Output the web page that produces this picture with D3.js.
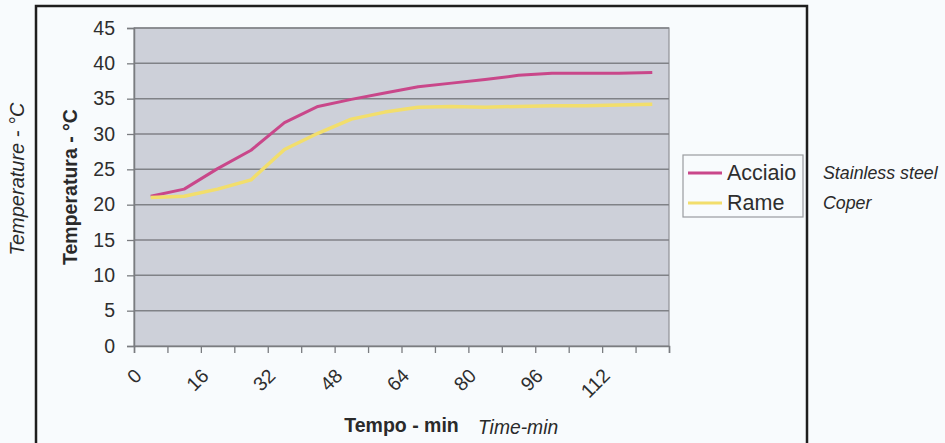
<!DOCTYPE html>
<html>
<head>
<meta charset="utf-8">
<script src="https://cdn.jsdelivr.net/npm/d3@7/dist/d3.min.js"></script>
<style>
  html, body { margin: 0; padding: 0; background: #f8fbfd; }
  svg { display: block; }
  text { font-family: "Liberation Sans", Arial, sans-serif; }
</style>
</head>
<body>
<svg id="chart" width="945" height="443"></svg>
<script>
// Sampling times (min), one reading every 8 minutes
const times = [0, 8, 16, 24, 32, 40, 48, 56, 64, 72, 80, 88, 96, 104, 112, 120];
// Temperature readings (°C)
const acciaio = [21.2, 22.2, 25.1, 27.7, 31.6, 33.9, 34.9, 35.8, 36.7, 37.2, 37.7, 38.3, 38.6, 38.6, 38.6, 38.7];
const rame    = [21.0, 21.2, 22.2, 23.5, 27.8, 30.1, 32.1, 33.1, 33.8, 33.9, 33.8, 33.9, 34.0, 34.0, 34.1, 34.2];
const seriesNames = ["Acciaio", "Rame"];
const seriesNotes = ["Stainless steel", "Coper"];
const seriesColors = ["#c9478a", "#f2de6c"];
// Axis labels
const xTickLabels = [0, 16, 32, 48, 64, 80, 96, 112];
const yTicks = [0, 5, 10, 15, 20, 25, 30, 35, 40, 45];

const svg = d3.select("#chart");

// Outer frame
svg.append("path")
  .attr("d", "M36,460 V6 H807 V460")
  .attr("fill", "none").attr("stroke", "#1e1e1e").attr("stroke-width", 2.5);

const plot = { left: 134, right: 669, top: 28, bottom: 346 };

const x = d3.scaleBand().domain(times).range([plot.left, plot.right]).paddingInner(0).paddingOuter(0);
const xEdge = d3.scaleLinear().domain([0, times.length]).range([plot.left, plot.right]);
const y = d3.scaleLinear().domain([0, 45]).range([plot.bottom, plot.top]);

// Plot area
svg.append("rect")
  .attr("x", plot.left).attr("y", plot.top)
  .attr("width", plot.right - plot.left).attr("height", plot.bottom - plot.top)
  .attr("fill", "#cdd0d9").attr("stroke", "#8f9196").attr("stroke-width", 1.2);

// Horizontal gridlines
svg.append("g")
  .selectAll("line")
  .data(yTicks.filter(d => d > 0))
  .join("line")
  .attr("x1", plot.left).attr("x2", plot.right)
  .attr("y1", d => y(d)).attr("y2", d => y(d))
  .attr("stroke", "#808287").attr("stroke-width", 1.5);

// Y axis
const yAxis = svg.append("g")
  .attr("transform", `translate(${plot.left},0)`)
  .call(d3.axisLeft(y).tickValues(yTicks).tickSize(7).tickPadding(12));
yAxis.select(".domain").attr("stroke", "#7a7c80").attr("stroke-width", 1.5);
yAxis.selectAll(".tick line").attr("stroke", "#7a7c80").attr("stroke-width", 1.3);
yAxis.selectAll(".tick text")
  .attr("font-size", 19.5).attr("fill", "#2e2e2e")
  .style("font-family", "'Liberation Sans', Arial, sans-serif");

// X axis (ticks on category boundaries)
const xAxis = svg.append("g")
  .attr("transform", `translate(0,${plot.bottom})`)
  .call(d3.axisBottom(xEdge).tickValues(d3.range(times.length + 1)).tickSize(7).tickFormat(""));
xAxis.select(".domain").attr("stroke", "#7a7c80").attr("stroke-width", 1.5);
xAxis.selectAll(".tick line").attr("stroke", "#7a7c80").attr("stroke-width", 1.3);

// Rotated category labels
svg.append("g")
  .selectAll("text")
  .data(xTickLabels)
  .join("text")
  .attr("transform", d => `translate(${x(d) + 4},372) rotate(-45)`)
  .attr("text-anchor", "end")
  .attr("dominant-baseline", "central")
  .attr("font-size", 19.5)
  .attr("fill", "#2e2e2e")
  .text(d => d);

// Series lines
const line = d3.line()
  .x((d, i) => x(times[i]) + x.bandwidth() / 2)
  .y(d => y(d));

[acciaio, rame].forEach((vals, k) => {
  svg.append("path")
    .datum(vals)
    .attr("fill", "none")
    .attr("stroke", seriesColors[k])
    .attr("stroke-width", k === 0 ? 3 : 3.5)
    .attr("stroke-linejoin", "round")
    .attr("d", line);
});

// Axis titles
svg.append("text")
  .attr("transform", `translate(77,187) rotate(-90)`)
  .attr("text-anchor", "middle")
  .attr("font-size", 19.5).attr("font-weight", "bold").attr("fill", "#2a2a2a")
  .text("Temperatura - °C");

svg.append("text")
  .attr("transform", `translate(24,179) rotate(-90)`)
  .attr("text-anchor", "middle")
  .attr("font-size", 20).attr("font-style", "italic").attr("fill", "#2a2a2a")
  .text("Temperature - °C");

svg.append("text")
  .attr("x", (plot.left + plot.right) / 2).attr("y", 432)
  .attr("text-anchor", "middle")
  .attr("font-size", 19.5).attr("font-weight", "bold").attr("fill", "#2a2a2a")
  .text("Tempo - min");

svg.append("text")
  .attr("x", 478).attr("y", 434)
  .attr("font-size", 19.3).attr("font-style", "italic").attr("fill", "#2a2a2a")
  .text("Time-min");

// Legend
const legend = svg.append("g");
legend.append("rect")
  .attr("x", 683).attr("y", 155).attr("width", 120).attr("height", 62)
  .attr("fill", "#f8fbfd").attr("stroke", "#9a9ca0").attr("stroke-width", 1.2);

const legendY = [173, 203];
seriesNames.forEach((name, k) => {
  legend.append("line")
    .attr("x1", 688).attr("x2", 722)
    .attr("y1", legendY[k]).attr("y2", legendY[k])
    .attr("stroke", seriesColors[k]).attr("stroke-width", 3);
  legend.append("text")
    .attr("x", 727).attr("y", legendY[k])
    .attr("dominant-baseline", "central")
    .attr("font-size", 21.5).attr("fill", "#2e2e2e")
    .text(name);
  svg.append("text")
    .attr("x", 823).attr("y", legendY[k])
    .attr("dominant-baseline", "central")
    .attr("font-size", 17.8).attr("font-style", "italic").attr("fill", "#2a2a2a")
    .text(seriesNotes[k]);
});
</script>
</body>
</html>
